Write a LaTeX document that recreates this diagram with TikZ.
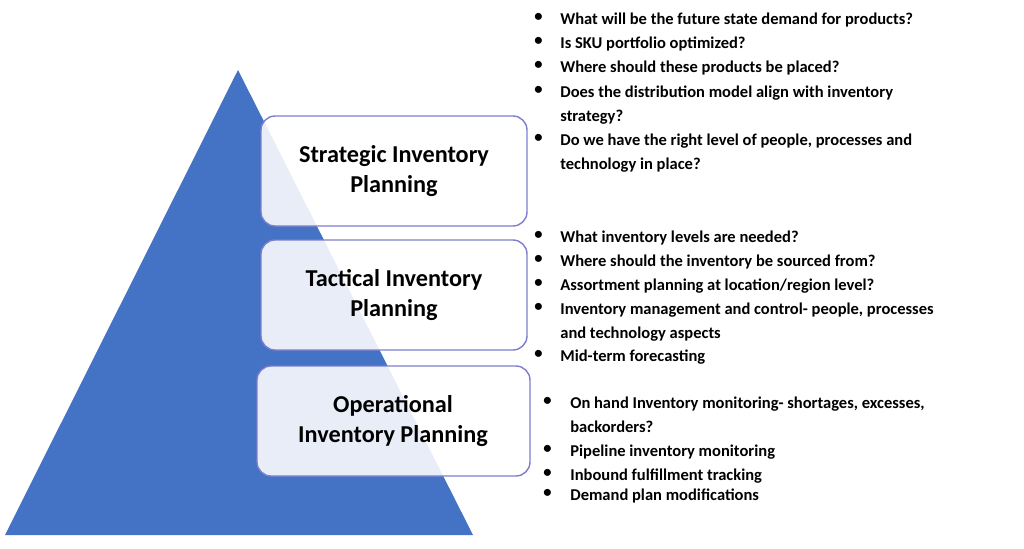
\documentclass[tikz,border=0pt]{standalone}
\usepackage{fontspec}
\setmainfont{Carlito}
\begin{document}
\begin{tikzpicture}[x=0.02cm, y=-0.02cm,
   levelbox/.style={draw=blue!45!gray!70, fill=white, fill opacity=0.88, text opacity=1, rounded corners=8pt, line width=0.8pt},
   leveltext/.style={font=\bfseries\fontsize{13.8}{17.5}\selectfont, align=center},
   item/.style={anchor=north west, inner sep=0pt, align=left, font=\bfseries\fontsize{9.4}{13.6}\selectfont},
   dot/.style={anchor=north west, inner sep=0pt, font=\bfseries\fontsize{9.4}{13.6}\selectfont}]

   % Rahmen
   \useasboundingbox (0,0) rectangle (1024,548);

   % Pyramide
   \fill [fill={rgb,255:red,68;green,114;blue,196}] (238,70) -- (473,535) -- (5,535) -- cycle;

   % Ebenen
   \draw [levelbox] (261,116) rectangle (527,226);
   \node [leveltext] (strat) at (394,171) {Strategic Inventory\\Planning};
   \draw [levelbox] (261,240) rectangle (527,350);
   \node [leveltext] (tact) at (394,295) {Tactical Inventory\\Planning};
   \draw [levelbox] (257,366) rectangle (530,476);
   \node [leveltext] (oper) at (393,421) {Operational\\Inventory Planning};

   % Fragen: strategisch
   \foreach \y/\t [count=\i] in {13/{What will be the future state demand for products?},
        37/{Is SKU portfolio optimized?},
        61/{Where should these products be placed?},
        86/{Does the distribution model align with inventory\\strategy?},
        134/{Do we have the right level of people, processes and\\technology in place?}}{
      \node [dot] (sb\i) at (534,\y) {•};
      \node [item] (si\i) at (560,\y) {\t};
   }

   % Fragen: taktisch
   \foreach \y/\t [count=\i] in {231/{What inventory levels are needed?},
        255/{Where should the inventory be sourced from?},
        279/{Assortment planning at location/region level?},
        303/{Inventory management and control- people, processes\\and technology aspects},
        350/{Mid-term forecasting}}{
      \node [dot] (tb\i) at (534,\y) {•};
      \node [item] (ti\i) at (560,\y) {\t};
   }

   % Fragen: operativ
   \foreach \y/\t [count=\i] in {397/{On hand Inventory monitoring- shortages, excesses,\\backorders?},
        445/{Pipeline inventory monitoring},
        469/{Inbound fulfillment tracking},
        489/{Demand plan modifications}}{
      \node [dot] (ob\i) at (543,\y) {•};
      \node [item] (oi\i) at (570,\y) {\t};
   }

\end{tikzpicture}
\end{document}
